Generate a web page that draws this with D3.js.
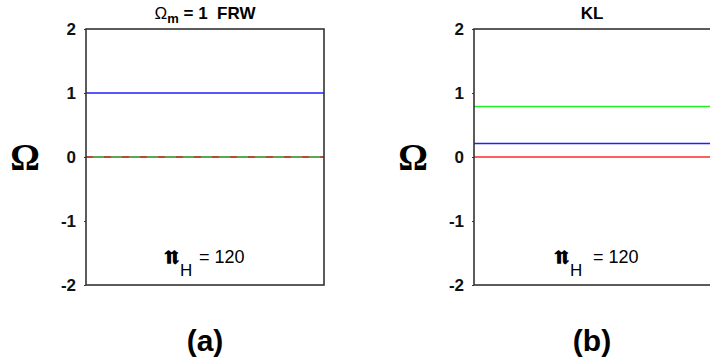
<!DOCTYPE html>
<html lang="en">
<head>
  <meta charset="UTF-8">
  <title>Omega panels</title>
  <script src="https://d3js.org/d3.v7.min.js"></script>
  <style>
    body { margin: 0; background: white; }
    svg { display: block; }
  </style>
</head>
<body>
  <div id="chart"></div>
  <script>
    const yTicks = [-2, -1, 0, 1, 2]
    const panelTitles = ['FRW', 'KL']
    const panelLabels = ['(a)', '(b)']
    const nH = 120
    // horizontal lines per panel: value, colour, dashed?
    const frwLines = [
      { v: 1, color: '#1f1fff', dash: null },
      { v: 0, color: '#1e8c1e', dash: null },
      { v: 0, color: '#d0302a', dash: '7,11' }
    ]
    const klLines = [
      { v: 0.79, color: '#22ee22', dash: null },
      { v: 0.21, color: '#1f1fff', dash: null },
      { v: 0, color: '#ff2a2a', dash: null }
    ]

    const width = 710
    const height = 360
    const sans = '"Liberation Sans", Arial, sans-serif'

    const svg = d3.select('#chart').append('svg')
      .attr('width', width)
      .attr('height', height)

    const y = d3.scaleLinear().domain([-2, 2]).range([285, 29])

    const panels = [
      { x0: 86, x1: 324, lines: frwLines, cx: 205 },
      { x0: 474, x1: 712, lines: klLines, cx: 592 }
    ]

    panels.forEach((p, i) => {
      const g = svg.append('g')
      const x = d3.scaleLinear().domain([0, 1]).range([p.x0, p.x1])

      g.selectAll('line.series')
        .data(p.lines)
        .enter().append('line')
        .attr('class', 'series')
        .attr('x1', x(0)).attr('x2', x(1))
        .attr('y1', d => y(d.v)).attr('y2', d => y(d.v))
        .attr('stroke', d => d.color)
        .attr('stroke-width', 1.6)
        .attr('stroke-dasharray', d => d.dash)

      g.append('rect')
        .attr('x', p.x0).attr('y', y(2))
        .attr('width', p.x1 - p.x0).attr('height', y(-2) - y(2))
        .attr('fill', 'none')
        .attr('stroke', '#333')
        .attr('stroke-width', 1.6)

      const axis = d3.axisLeft(y).tickValues(yTicks).tickSize(2).tickPadding(8)
        .tickFormat(d => String(d))
      g.append('g')
        .attr('transform', `translate(${p.x0},0)`)
        .call(axis)
        .call(a => a.select('.domain').remove())
        .call(a => a.selectAll('.tick line').attr('stroke', '#333'))
        .call(a => a.selectAll('.tick text')
          .attr('fill', '#111')
          .attr('font-family', sans)
          .attr('font-weight', 'bold')
          .attr('font-size', 17))

      // Omega axis label
      g.append('text')
        .attr('x', p.x0 - 61).attr('y', y(0) + 13)
        .attr('text-anchor', 'middle')
        .attr('font-family', '"Liberation Serif", "DejaVu Serif", serif')
        .attr('font-weight', 'bold')
        .attr('font-size', 37)
        .text('Ω')

      // title
      const t = g.append('text')
        .attr('x', p.cx).attr('y', 19)
        .attr('text-anchor', 'middle')
        .attr('font-family', sans)
        .attr('font-weight', 'bold')
        .attr('font-size', 17)
      if (i === 0) {
        t.append('tspan').attr('font-weight', 'normal').text('Ω')
        t.append('tspan').attr('dy', 4).attr('font-size', 13).text('m')
        t.append('tspan').attr('dy', -4).text(' = 1\u00a0\u00a0' + panelTitles[i])
      } else {
        t.text(panelTitles[i])
      }

      // n_H annotation
      const ax = i === 0 ? 165 : 555
      const gap = i === 0 ? 199 : 593
      g.append('text')
        .attr('x', ax).attr('y', 264)
        .attr('font-family', '"DejaVu Serif", serif')
        .attr('font-weight', 'bold')
        .attr('font-size', 26)
        .text('𝖓')
      g.append('text')
        .attr('x', ax + 15).attr('y', 276)
        .attr('font-family', sans)
        .attr('font-size', 17)
        .text('H')
      g.append('text')
        .attr('x', gap).attr('y', 263)
        .attr('font-family', sans)
        .attr('font-size', 18)
        .text('= ' + nH)

      // panel label
      svg.append('text')
        .attr('x', p.cx).attr('y', 351)
        .attr('text-anchor', 'middle')
        .attr('font-family', sans)
        .attr('font-weight', 'bold')
        .attr('font-size', 30)
        .text(panelLabels[i])
    })
  </script>
</body>
</html>
